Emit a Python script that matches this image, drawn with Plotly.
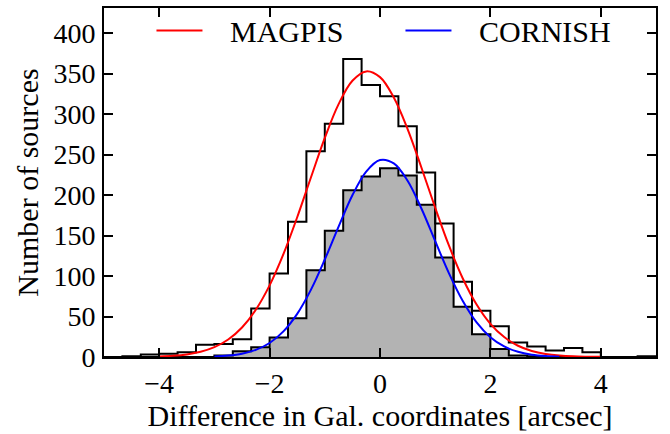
import numpy as np
import plotly.graph_objects as go

# ---- data ----
BIN_START = -5.0
BIN_WIDTH = 1.0 / 3.0
magpis_counts = [0, 1, 3, 4, 6, 15, 16, 22, 60, 103,
                 167, 254, 288, 368, 336, 322, 285, 228, 165, 93,
                 57, 38, 18, 13, 8, 11, 6, 0, 0, 1]
cornish_counts = [0, 0, 0, 0, 0, 0, 2, 7, 12, 24,
                  48, 107, 156, 206, 223, 233, 224, 188, 123, 62,
                  28, 10, 2, 1, 0, 0, 0, 0, 0, 0]

magpis_fit_x = [-4, -3.75, -3.5, -3.25, -3, -2.75, -2.5, -2.25, -2, -1.75, -1.5, -1.25,
                -1, -0.75, -0.5, -0.25, 0, 0.25, 0.5, 0.75, 1, 1.25, 1.5, 1.75, 2,
                2.25, 2.5, 2.75, 3, 3.25, 3.5, 3.75, 4]
magpis_fit_y = [0.7, 1.5, 3.2, 6.4, 12.1, 21.6, 36.5, 58.4, 88.5, 127, 172.6, 222,
                270.6, 312.3, 341.1, 352.7, 345.6, 320.5, 281.5, 234, 184.3, 137.4, 97, 64.8, 41,
                24.6, 13.9, 7.5, 3.8, 1.8, 0.8, 0.4, 0.2]
cornish_fit_x = [-3, -2.75, -2.5, -2.25, -2, -1.75, -1.5, -1.25, -1, -0.75, -0.5, -0.25,
                 0, 0.25, 0.5, 0.75, 1, 1.25, 1.5, 1.75, 2, 2.25, 2.5, 2.75, 3, 3.25]
cornish_fit_y = [0.7, 1.8, 4.1, 8.8, 17.3, 31.6, 53.3, 83.2, 120.4, 161.1, 199.7, 229,
                 243.3, 239.2, 217.7, 183.4, 143.1, 103.3, 69.1, 42.7, 24.5, 13, 6.4, 2.9, 1.2, 0.4]

x_ticks = [-4, -2, 0, 2, 4]
y_ticks = [0, 50, 100, 150, 200, 250, 300, 350, 400]

FONT = "Liberation Serif"
GAP = "\u00a0\u00a0\u00a0"


def step_xy(counts):
    edges = BIN_START + BIN_WIDTH * np.arange(len(counts) + 1)
    xs = [edges[0]] + list(edges) + [edges[-1]]
    ys = [0] + list(counts) + [counts[-1], 0]
    return xs, ys


fig = go.Figure()

cx, cy = step_xy(cornish_counts)
fig.add_trace(go.Scatter(x=cx, y=cy, mode="lines", line=dict(shape="hv", color="black", width=2),
                         fill="tozeroy", fillcolor="#b3b3b3", showlegend=False, hoverinfo="skip"))
mx, my = step_xy(magpis_counts)
fig.add_trace(go.Scatter(x=mx, y=my, mode="lines", line=dict(shape="hv", color="black", width=2),
                         showlegend=False, hoverinfo="skip"))

fig.add_trace(go.Scatter(x=magpis_fit_x, y=magpis_fit_y, mode="lines", name=GAP + "MAGPIS",
                         line=dict(color="#ff0000", width=2, shape="spline")))
fig.add_trace(go.Scatter(x=cornish_fit_x, y=cornish_fit_y, mode="lines", name=GAP + "CORNISH",
                         line=dict(color="#0000ff", width=2, shape="spline")))

axis_common = dict(showline=True, linecolor="black", linewidth=2, mirror="ticks",
                   ticks="inside", ticklen=9, tickwidth=1.5, tickcolor="black",
                   showgrid=False, zeroline=False,
                   tickfont=dict(family=FONT, size=28, color="black"))

fig.update_xaxes(range=[-5, 5], tickvals=x_ticks, ticktext=[f"{v}".replace("-", "\u2212") for v in x_ticks],
                 title=dict(text="Difference in Gal. coordinates [arcsec]",
                            font=dict(family=FONT, size=30, color="black"), standoff=0),
                 ticklabelstandoff=0, **axis_common)
fig.update_yaxes(range=[0, 431], tickvals=y_ticks,
                 title=dict(text="Number of sources",
                            font=dict(family=FONT, size=30, color="black"), standoff=6),
                 ticklabelstandoff=1, **axis_common)

fig.update_layout(
    width=670, height=434,
    margin=dict(l=104, r=14, t=5, b=77),
    paper_bgcolor="white", plot_bgcolor="white",
    font=dict(family=FONT, color="black"),
    legend=dict(orientation="h", x=0.086, y=1.01, xanchor="left", yanchor="top",
                bgcolor="rgba(0,0,0,0)", font=dict(family=FONT, size=30, color="black"),
                itemwidth=46, entrywidth=188, entrywidthmode="pixels"),
)

fig.write_html("out.html", config={"displayModeBar": False},
               post_script="document.body.style.margin='0';")
